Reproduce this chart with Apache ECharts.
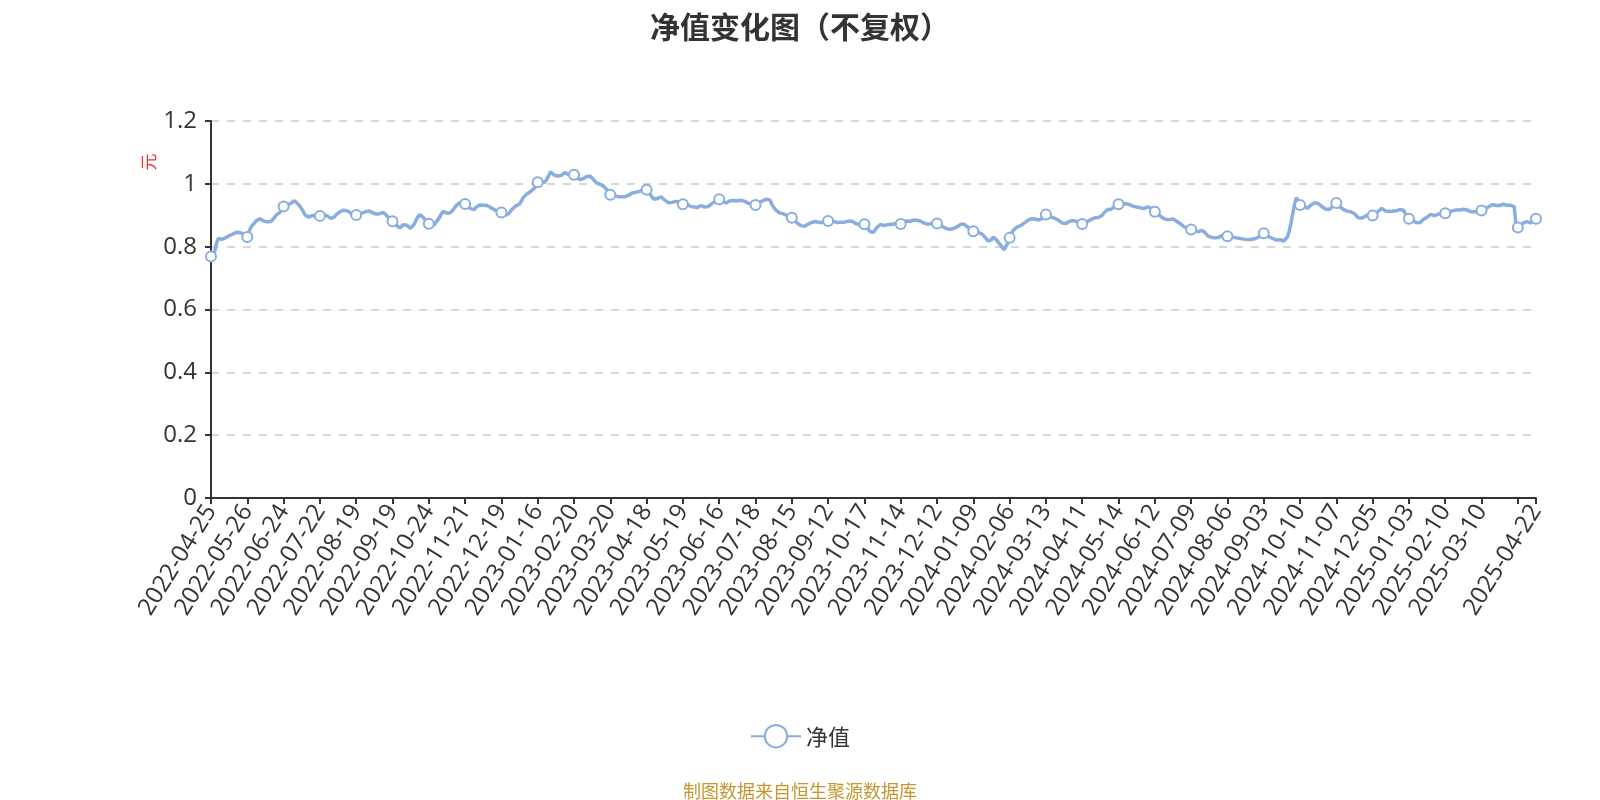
<!DOCTYPE html>
<html>
<head>
<meta charset="utf-8">
<script src="https://cdn.jsdelivr.net/npm/echarts@6/dist/echarts.min.js"></script>
<style>html,body{margin:0;padding:0;background:#fff}#chart{width:1600px;height:800px}</style>
</head>
<body>
<div id="chart"></div>
<script>
// Trading dates (NAV publication days), grouped by month: "YYYY-MM:day,day,..."
const tradingMonths = [
  "2022-04:25,26,27,28,29",
  "2022-05:05,06,09,10,11,12,13,16,17,18,19,20,23,24,25,26,27,30,31",
  "2022-06:01,02,06,07,08,09,10,13,14,15,16,17,20,21,22,23,24,27,28,29,30",
  "2022-07:01,04,05,06,07,08,11,12,13,14,15,18,19,20,21,22,25,26,27,28,29",
  "2022-08:01,02,03,04,05,08,09,10,11,12,15,16,17,18,19,22,23,24,25,26,29,30,31",
  "2022-09:01,02,05,06,07,08,09,13,14,15,16,19,20,21,22,23,26,27,28,29,30",
  "2022-10:10,11,12,13,14,17,18,19,20,21,24,25,26,27,28,31",
  "2022-11:01,02,03,04,07,08,09,10,11,14,15,16,17,18,21,22,23,24,25,28,29,30",
  "2022-12:01,02,05,06,07,08,09,12,13,14,15,16,19,20,21,22,23,26,27,28,29,30,31",
  "2023-01:03,04,05,06,09,10,11,12,13,16,17,18,19,20,30,31",
  "2023-02:01,02,03,06,07,08,09,10,13,14,15,16,17,20,21,22,23,24,27,28",
  "2023-03:01,02,03,06,07,08,09,10,13,14,15,16,17,20,21,22,23,24,27,28,29,30,31",
  "2023-04:03,04,06,07,10,11,12,13,14,17,18,19,20,21,24,25,26,27,28",
  "2023-05:04,05,08,09,10,11,12,15,16,17,18,19,22,23,24,25,26,29,30,31",
  "2023-06:01,02,05,06,07,08,09,12,13,14,15,16,19,20,21,26,27,28,29,30",
  "2023-07:03,04,05,06,07,10,11,12,13,14,17,18,19,20,21,24,25,26,27,28,31",
  "2023-08:01,02,03,04,07,08,09,10,11,14,15,16,17,18,21,22,23,24,25,28,29,30,31",
  "2023-09:01,04,05,06,07,08,11,12,13,14,15,18,19,20,21,22,25,26,27,28,30",
  "2023-10:09,10,11,12,13,16,17,18,19,20,23,24,25,26,27,30,31",
  "2023-11:01,02,03,06,07,08,09,10,13,14,15,16,17,20,21,22,23,24,27,28,29,30",
  "2023-12:01,04,05,06,07,08,11,12,13,14,15,18,19,20,21,22,25,26,27,28,29,31",
  "2024-01:02,03,04,05,08,09,10,11,12,15,16,17,18,19,22,23,24,25,26,29,30,31",
  "2024-02:01,02,05,06,07,08,19,20,21,22,23,26,27,28,29",
  "2024-03:01,04,05,06,07,08,11,12,13,14,15,18,19,20,21,22,25,26,27,28,29,31",
  "2024-04:01,02,03,08,09,10,11,12,15,16,17,18,19,22,23,24,25,26,29,30",
  "2024-05:06,07,08,09,10,13,14,15,16,17,20,21,22,23,24,27,28,29,30,31",
  "2024-06:03,04,05,06,07,11,12,13,14,17,18,19,20,21,24,25,26,27,28,30",
  "2024-07:01,02,03,04,05,08,09,10,11,12,15,16,17,18,19,22,23,24,25,26,29,30,31",
  "2024-08:01,02,05,06,07,08,09,12,13,14,15,16,19,20,21,22,23,26,27,28,29,30",
  "2024-09:02,03,04,05,06,09,10,11,12,13,18,19,20,23,24,25,26,27,30",
  "2024-10:08,09,10,11,14,15,16,17,18,21,22,23,24,25,28,29,30,31",
  "2024-11:01,04,05,06,07,08,11,12,13,14,15,18,19,20,21,22,25,26,27,28,29",
  "2024-12:02,03,04,05,06,09,10,11,12,13,16,17,18,19,20,23,24,25,26,27,30,31",
  "2025-01:02,03,06,07,08,09,10,13,14,15,16,17,20,21,22,23,24,27",
  "2025-02:05,06,07,10,11,12,13,14,17,18,19,20,21,24,25,26,27,28",
  "2025-03:03,04,05,06,07,10,11,12,13,14,17,18,19,20,21,24,25,26,27,28,31",
  "2025-04:01,02,03,07,08,09,10,11,14,15,16,17,18,21,22"
];

// Unit NAV (元), one per trading date
const navValues = [
  0.769,0.772,0.784,0.81,0.826,0.822,0.823,0.825,0.828,0.832,0.835,0.838,0.84,0.843,0.846,0.849,0.845,0.846,0.84,0.835,0.831,
  0.848,0.862,0.868,0.876,0.883,0.886,0.889,0.885,0.882,0.88,0.879,0.878,0.88,0.885,0.893,0.901,0.904,0.909,0.918,0.928,
  0.93,0.932,0.935,0.938,0.942,0.946,0.94,0.935,0.928,0.92,0.91,0.9,0.896,0.894,0.898,0.9,0.895,0.893,0.896,0.898,
  0.9,0.902,0.9,0.898,0.894,0.89,0.889,0.895,0.902,0.907,0.911,0.914,0.916,0.918,0.914,0.91,0.907,0.905,0.903,0.901,
  0.903,0.905,0.907,0.909,0.911,0.913,0.914,0.911,0.908,0.906,0.904,0.902,0.905,0.908,0.909,0.903,0.898,0.89,0.885,0.881,
  0.876,0.868,0.862,0.86,0.865,0.87,0.873,0.868,0.862,0.858,0.862,0.872,0.885,0.895,0.902,0.897,0.893,0.885,0.878,0.873,
  0.868,0.865,0.87,0.878,0.886,0.894,0.905,0.913,0.91,0.906,0.902,0.908,0.915,0.922,0.93,0.935,0.94,0.938,0.936,0.936,
  0.933,0.927,0.921,0.917,0.918,0.925,0.93,0.933,0.935,0.932,0.929,0.931,0.93,0.925,0.921,0.918,0.915,0.912,0.908,0.909,
  0.903,0.899,0.9,0.905,0.913,0.92,0.926,0.93,0.932,0.936,0.945,0.956,0.962,0.968,0.972,0.975,0.978,0.985,0.995,1.005,
  1.007,1.008,1.006,1.005,1.01,1.025,1.038,1.035,1.028,1.024,1.025,1.026,1.027,1.032,1.036,1.033,1.029,1.027,1.028,1.029,
  1.022,1.017,1.014,1.012,1.016,1.021,1.023,1.024,1.024,1.018,1.012,1.005,1.001,0.999,0.997,0.994,0.99,0.982,0.972,0.965,
  0.963,0.962,0.961,0.96,0.959,0.959,0.958,0.959,0.961,0.963,0.967,0.971,0.972,0.973,0.974,0.976,0.978,0.98,0.981,0.981,
  0.975,0.966,0.958,0.951,0.948,0.953,0.957,0.959,0.954,0.948,0.944,0.94,0.939,0.941,0.942,0.944,0.945,0.942,0.938,0.935,
  0.937,0.936,0.933,0.929,0.928,0.926,0.925,0.925,0.928,0.931,0.928,0.926,0.925,0.928,0.933,0.937,0.941,0.945,0.948,0.951,
  0.947,0.942,0.938,0.94,0.944,0.946,0.948,0.947,0.944,0.946,0.949,0.948,0.946,0.944,0.94,0.938,0.938,0.936,0.934,0.933,
  0.937,0.941,0.944,0.946,0.948,0.951,0.954,0.948,0.935,0.925,0.918,0.912,0.908,0.91,0.905,0.903,0.9,0.898,0.895,0.892,
  0.888,0.882,0.875,0.87,0.867,0.866,0.865,0.868,0.872,0.875,0.877,0.879,0.88,0.881,0.877,0.874,0.877,0.879,0.881,0.882,
  0.883,0.884,0.88,0.877,0.877,0.878,0.878,0.879,0.878,0.877,0.881,0.883,0.882,0.879,0.874,0.869,0.87,0.872,0.871,0.871,
  0.866,0.858,0.848,0.843,0.846,0.852,0.862,0.868,0.871,0.869,0.867,0.868,0.87,0.87,0.871,0.872,0.873,0.874,0.873,0.872,
  0.876,0.879,0.882,0.883,0.881,0.882,0.884,0.885,0.884,0.883,0.881,0.879,0.875,0.872,0.871,0.873,0.874,0.874,0.875,0.874,
  0.872,0.868,0.864,0.862,0.858,0.856,0.855,0.856,0.858,0.86,0.863,0.867,0.871,0.873,0.871,0.867,0.862,0.857,0.853,0.849,
  0.848,0.847,0.845,0.842,0.839,0.833,0.826,0.818,0.812,0.822,0.831,0.827,0.82,0.812,0.805,0.797,0.79,0.795,0.812,0.828,
  0.842,0.852,0.857,0.862,0.865,0.867,0.87,0.875,0.879,0.884,0.886,0.889,0.889,0.888,0.887,0.885,0.884,0.89,0.897,0.902,
  0.898,0.896,0.894,0.891,0.89,0.888,0.884,0.879,0.875,0.871,0.874,0.878,0.881,0.883,0.883,0.882,0.88,0.877,0.874,0.872,
  0.875,0.878,0.881,0.884,0.887,0.89,0.892,0.893,0.893,0.894,0.9,0.908,0.914,0.918,0.918,0.919,0.925,0.929,0.932,0.935,
  0.935,0.936,0.937,0.937,0.936,0.934,0.931,0.929,0.927,0.926,0.925,0.924,0.923,0.921,0.924,0.927,0.928,0.922,0.916,0.911,
  0.906,0.902,0.897,0.893,0.89,0.887,0.885,0.886,0.887,0.888,0.885,0.881,0.877,0.873,0.868,0.864,0.861,0.859,0.857,0.855,
  0.853,0.851,0.85,0.848,0.85,0.852,0.848,0.843,0.835,0.831,0.83,0.831,0.828,0.826,0.829,0.832,0.835,0.835,0.834,0.833,
  0.832,0.831,0.83,0.829,0.828,0.827,0.826,0.825,0.824,0.823,0.823,0.822,0.823,0.824,0.825,0.826,0.83,0.836,0.841,0.843,
  0.839,0.835,0.831,0.829,0.826,0.823,0.821,0.82,0.822,0.821,0.818,0.82,0.83,0.848,0.875,0.905,0.935,0.956,0.945,0.933,
  0.932,0.93,0.926,0.922,0.927,0.932,0.937,0.94,0.941,0.937,0.932,0.928,0.925,0.92,0.915,0.918,0.922,0.928,0.934,0.939,
  0.933,0.927,0.922,0.918,0.915,0.913,0.912,0.911,0.909,0.905,0.9,0.892,0.889,0.891,0.894,0.897,0.9,0.902,0.901,0.899,
  0.902,0.905,0.912,0.918,0.922,0.918,0.914,0.913,0.912,0.912,0.913,0.913,0.914,0.915,0.918,0.92,0.916,0.905,0.896,0.889,
  0.886,0.883,0.88,0.877,0.874,0.876,0.882,0.887,0.89,0.894,0.9,0.903,0.9,0.899,0.901,0.903,0.904,0.905,0.906,0.906,
  0.908,0.91,0.912,0.914,0.915,0.917,0.918,0.917,0.915,0.919,0.922,0.917,0.913,0.911,0.91,0.911,0.911,0.91,0.91,0.915,
  0.918,0.921,0.924,0.927,0.931,0.934,0.935,0.931,0.93,0.931,0.933,0.935,0.933,0.932,0.933,0.932,0.928,0.927,0.866,0.861,
  0.867,0.873,0.876,0.879,0.88,0.878,0.876,0.879,0.884,0.889
];

const seriesName = "净值";
const chartTitle = "净值变化图（不复权）";
const sourceNote = "制图数据来自恒生聚源数据库";
const yAxisUnit = "元";
const yMin = 0, yMax = 1.2, yStep = 0.2;
const labelStep = 20; // one labelled tick every 20 trading days

const categories = [];
tradingMonths.forEach(function (m) {
  const parts = m.split(":");
  parts[1].split(",").forEach(function (d) { categories.push(parts[0] + "-" + d); });
});
const lastIdx = categories.length - 1;
function isMarked(i) { return i % labelStep === 0 || i === lastIdx; }

// Series data: points between the labelled dates carry no symbol
const seriesData = navValues.map(function (v, i) {
  return isMarked(i) ? v : { value: v, symbol: "none" };
});

const FONT = "'Open Sans','Noto Sans CJK SC',sans-serif";
const CJK = "'Noto Sans CJK SC',sans-serif";
const LINE_COLOR = "#8aaddf";

const chart = echarts.init(document.getElementById("chart"), null, { renderer: "canvas" });
chart.setOption({
  backgroundColor: "#ffffff",
  textStyle: { fontFamily: FONT },
  animation: false,
  title: [
    {
      text: chartTitle, left: "center", top: 7,
      textStyle: { fontSize: 30, fontWeight: "bold", color: "#333333", fontFamily: CJK }
    },
    {
      text: sourceNote, left: "center", top: 777,
      textStyle: { fontSize: 18, fontWeight: "normal", color: "#c8952c", fontFamily: CJK }
    }
  ],
  legend: {
    data: [seriesName], left: "center", top: 719,
    itemWidth: 50, itemHeight: 28, itemGap: 10,
    textStyle: { fontSize: 22, color: "#333333", fontFamily: CJK }
  },
  graphic: [{
    type: "text", x: 149, y: 162, rotation: Math.PI / 2,
    style: { text: yAxisUnit, fill: "#ee3333", font: "17px 'Noto Sans CJK SC'", textAlign: "center", textVerticalAlign: "middle", align: "center", verticalAlign: "middle" }
  }],
  grid: { left: 211, right: 64, top: 121, bottom: 302, containLabel: false },
  xAxis: {
    type: "category", data: categories, boundaryGap: false,
    axisLine: { show: true, lineStyle: { color: "#333333", width: 2 } },
    axisTick: { show: true, length: 6, lineStyle: { color: "#333333", width: 2 },
      interval: function (i) { return isMarked(i); } },
    axisLabel: {
      rotate: 58, fontSize: 24, color: "#333333", margin: 9,
      interval: function (i) { return (i % labelStep === 0 && i + labelStep <= lastIdx + 5) || i === lastIdx; }
    },
    splitLine: { show: false }
  },
  yAxis: {
    type: "value", min: yMin, max: yMax, interval: yStep,
    axisLine: { show: true, lineStyle: { color: "#333333", width: 2 } },
    axisTick: { show: true, length: 6, lineStyle: { color: "#333333", width: 2 } },
    axisLabel: { fontSize: 24, color: "#333333", margin: 14 },
    splitLine: { show: true, lineStyle: { color: "#cccccc", width: 1.5, type: [8, 8] } }
  },
  series: [{
    name: seriesName, type: "line", data: seriesData,
    showSymbol: true, showAllSymbol: true,
    symbol: "emptyCircle",
    symbolSize: 10,
    lineStyle: { color: LINE_COLOR, width: 3.5 },
    itemStyle: { color: LINE_COLOR, borderWidth: 2 }
  }]
});
</script>
</body>
</html>
